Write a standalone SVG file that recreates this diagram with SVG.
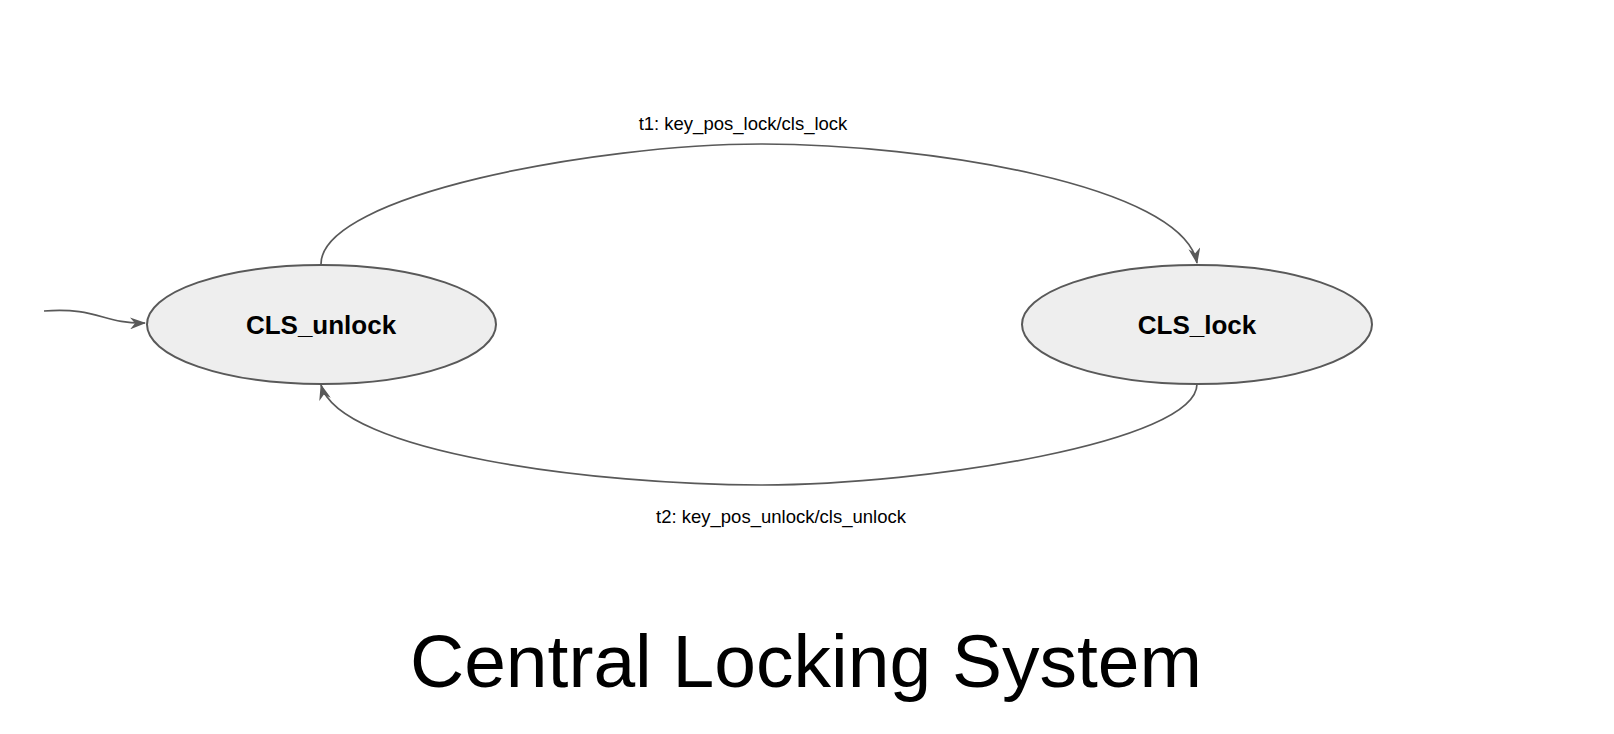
<svg xmlns="http://www.w3.org/2000/svg" width="1614" height="734" viewBox="0 0 1614 734">
<style>
.node{fill:#eeeeee;stroke:#595959;stroke-width:2}
.edge{fill:none;stroke:#595959;stroke-width:1.7}
.nlabel{font-family:"Liberation Sans",Arial,sans-serif;font-weight:bold;font-size:26px;text-anchor:middle;fill:#000}
.elabel{font-family:"Liberation Sans",Arial,sans-serif;font-size:18.5px;text-anchor:middle;fill:#000}
.title{font-family:"Liberation Sans",Arial,sans-serif;font-size:75px;text-anchor:middle;fill:#000}
</style>
<defs>
<marker id="arr" viewBox="0 0 16 12" refX="15" refY="6" markerWidth="16" markerHeight="12" markerUnits="userSpaceOnUse" orient="auto">
<path d="M0,0 L16,6 L0,12 L5,6 Z" fill="#595959"/>
</marker>
</defs>
<rect width="1614" height="734" fill="#ffffff"/>
<g id="connectors">
<path class="edge" d="M44,311 C98,307 103,324 145,323" marker-end="url(#arr)"/>
<path class="edge" d="M321,264 C321,195 597,144 761,144 C926,144 1183,185 1197,263" marker-end="url(#arr)"/>
<path class="edge" d="M1197,384 C1197,442 926,485 761,485 C597,485 340,453 321,385" marker-end="url(#arr)"/>
<text class="elabel" x="743" y="130">t1: key_pos_lock/cls_lock</text>
<text class="elabel" x="781" y="523">t2: key_pos_unlock/cls_unlock</text>
</g>
<g id="CLS_unlock">
<ellipse class="node" cx="321.5" cy="324.5" rx="174.5" ry="59.5"/>
<text class="nlabel" x="321" y="334">CLS_unlock</text>
</g>
<g id="CLS_lock">
<ellipse class="node" cx="1197" cy="324.5" rx="175" ry="59.5"/>
<text class="nlabel" x="1197" y="334">CLS_lock</text>
</g>
<g id="title">
<text class="title" x="806" y="687">Central Locking System</text>
</g>
</svg>
